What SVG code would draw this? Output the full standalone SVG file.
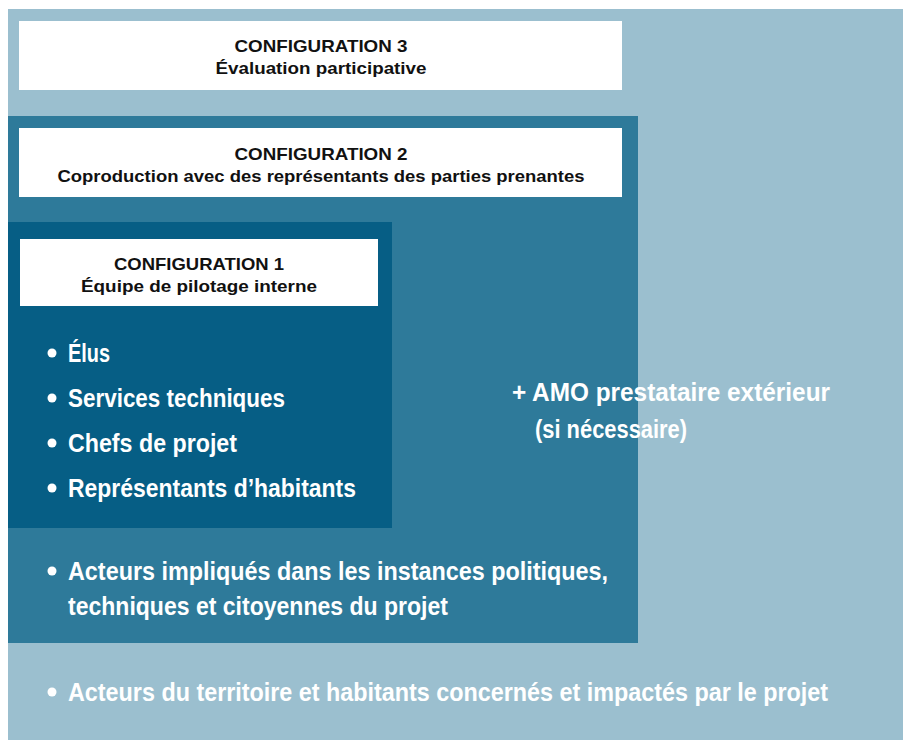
<svg xmlns="http://www.w3.org/2000/svg" width="903" height="740" viewBox="0 0 903 740">
<style>
.h{font-family:"Liberation Sans",Arial,sans-serif;font-weight:bold;font-size:16.5px;fill:#111;text-anchor:middle}
.b{font-family:"Liberation Sans",Arial,sans-serif;font-weight:bold;font-size:25px;fill:#fff}
.dot{fill:#fff}
</style>
<rect width="903" height="740" fill="#fff"/>
<g id="zone3">
<rect x="8" y="9" width="895" height="731" fill="#9bbfcf"/>
<g id="config3">
<rect x="19" y="21" width="603" height="69" fill="#fff"/>
<text class="h" x="321" y="52" textLength="173" lengthAdjust="spacingAndGlyphs">CONFIGURATION 3</text>
<text class="h" x="321" y="74" textLength="211" lengthAdjust="spacingAndGlyphs">Évaluation participative</text>
</g>
<circle class="dot" cx="52" cy="692" r="4.5"/>
<text class="b" x="68" y="701" textLength="760" lengthAdjust="spacingAndGlyphs">Acteurs du territoire et habitants concernés et impactés par le projet</text>
</g>
<g id="zone2">
<rect x="8" y="116" width="630" height="527" fill="#2e7a9a"/>
<g id="config2">
<rect x="19" y="128" width="603" height="69" fill="#fff"/>
<text class="h" x="321" y="160" textLength="173" lengthAdjust="spacingAndGlyphs">CONFIGURATION 2</text>
<text class="h" x="321" y="182" textLength="527" lengthAdjust="spacingAndGlyphs">Coproduction avec des représentants des parties prenantes</text>
</g>
<circle class="dot" cx="52" cy="571" r="4.5"/>
<text class="b" x="68" y="580" textLength="540" lengthAdjust="spacingAndGlyphs">Acteurs impliqués dans les instances politiques,</text>
<text class="b" x="68" y="615" textLength="380" lengthAdjust="spacingAndGlyphs">techniques et citoyennes du projet</text>
<text class="b" x="512" y="401" textLength="318" lengthAdjust="spacingAndGlyphs">+ AMO prestataire extérieur</text>
<text class="b" x="535" y="438" textLength="152" lengthAdjust="spacingAndGlyphs">(si nécessaire)</text>
</g>
<g id="zone1">
<rect x="8" y="222" width="384" height="306" fill="#065e85"/>
<g id="config1">
<rect x="20" y="239" width="358" height="67" fill="#fff"/>
<text class="h" x="199" y="270" textLength="170" lengthAdjust="spacingAndGlyphs">CONFIGURATION 1</text>
<text class="h" x="199" y="292" textLength="236" lengthAdjust="spacingAndGlyphs">Équipe de pilotage interne</text>
</g>
<circle class="dot" cx="52" cy="353" r="4.5"/>
<text class="b" x="68" y="362" textLength="42" lengthAdjust="spacingAndGlyphs">Élus</text>
<circle class="dot" cx="52" cy="398" r="4.5"/>
<text class="b" x="68" y="407" textLength="217" lengthAdjust="spacingAndGlyphs">Services techniques</text>
<circle class="dot" cx="52" cy="443" r="4.5"/>
<text class="b" x="68" y="452" textLength="169" lengthAdjust="spacingAndGlyphs">Chefs de projet</text>
<circle class="dot" cx="52" cy="488" r="4.5"/>
<text class="b" x="68" y="497" textLength="288" lengthAdjust="spacingAndGlyphs">Représentants d’habitants</text>
</g>
<g id="connectors"></g>
</svg>
